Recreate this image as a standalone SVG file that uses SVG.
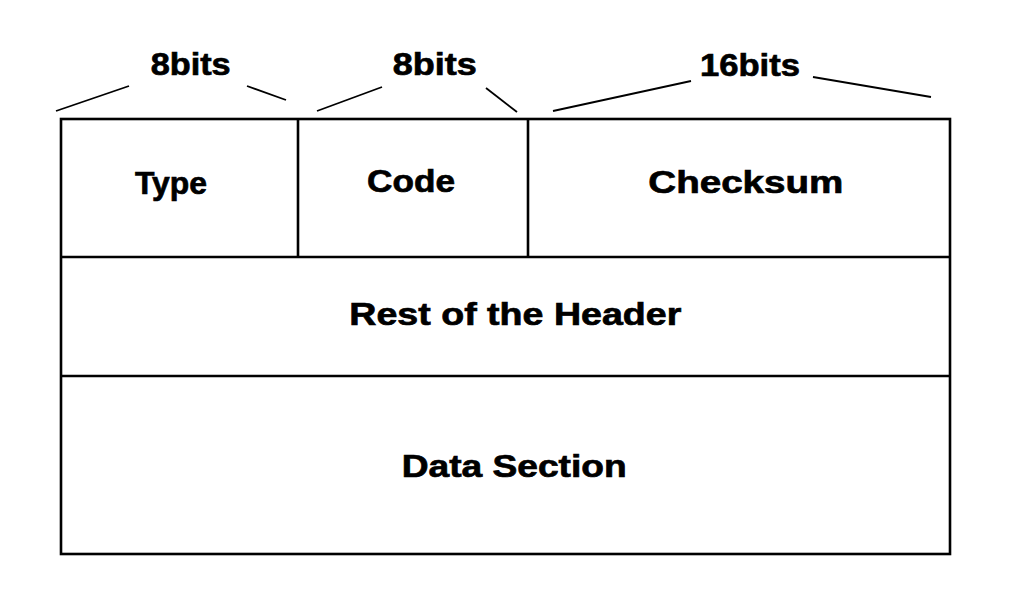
<svg xmlns="http://www.w3.org/2000/svg" width="1026" height="596" viewBox="0 0 1026 596">
<style>
.box{fill:none;stroke:#000;stroke-width:2.6}
.lead{stroke:#000;stroke-width:1.8;fill:none}
.t{font-family:"Liberation Sans",Arial,sans-serif;font-weight:bold;font-size:32px;fill:#000;stroke:#000;stroke-width:0.7}
</style>
<rect width="1026" height="596" fill="#fff"/>
<g id="connectors">
<line class="lead" x1="56" y1="111" x2="129" y2="86"/>
<line class="lead" x1="247" y1="86" x2="286" y2="100"/>
<line class="lead" x1="317" y1="111" x2="382" y2="87"/>
<line class="lead" x1="486" y1="88" x2="517" y2="112"/>
<line class="lead" x1="553" y1="111" x2="691" y2="81"/>
<line class="lead" x1="813" y1="77" x2="931" y2="97"/>
</g>
<g id="labels">
<text class="t" x="150.7" y="74.5" textLength="80" lengthAdjust="spacingAndGlyphs">8bits</text>
<text class="t" x="392.7" y="74.5" textLength="84" lengthAdjust="spacingAndGlyphs">8bits</text>
<text class="t" x="700" y="76" textLength="100" lengthAdjust="spacingAndGlyphs">16bits</text>
</g>
<g id="packet">
<rect class="box" x="61" y="119" width="889" height="435"/>
</g>
<g id="type">
<line class="box" x1="298" y1="119" x2="298" y2="257"/>
<text class="t" x="135" y="194" textLength="72" lengthAdjust="spacingAndGlyphs">Type</text>
</g>
<g id="code">
<line class="box" x1="528" y1="119" x2="528" y2="257"/>
<text class="t" x="367" y="192" textLength="88" lengthAdjust="spacingAndGlyphs">Code</text>
</g>
<g id="checksum">
<text class="t" x="648.3" y="193" textLength="195" lengthAdjust="spacingAndGlyphs">Checksum</text>
</g>
<g id="rest">
<line class="box" x1="61" y1="257" x2="950" y2="257"/>
<text class="t" x="349.3" y="325" textLength="332" lengthAdjust="spacingAndGlyphs">Rest of the Header</text>
</g>
<g id="data">
<line class="box" x1="61" y1="376" x2="950" y2="376"/>
<text class="t" x="401.7" y="476.5" textLength="225" lengthAdjust="spacingAndGlyphs">Data Section</text>
</g>
</svg>
